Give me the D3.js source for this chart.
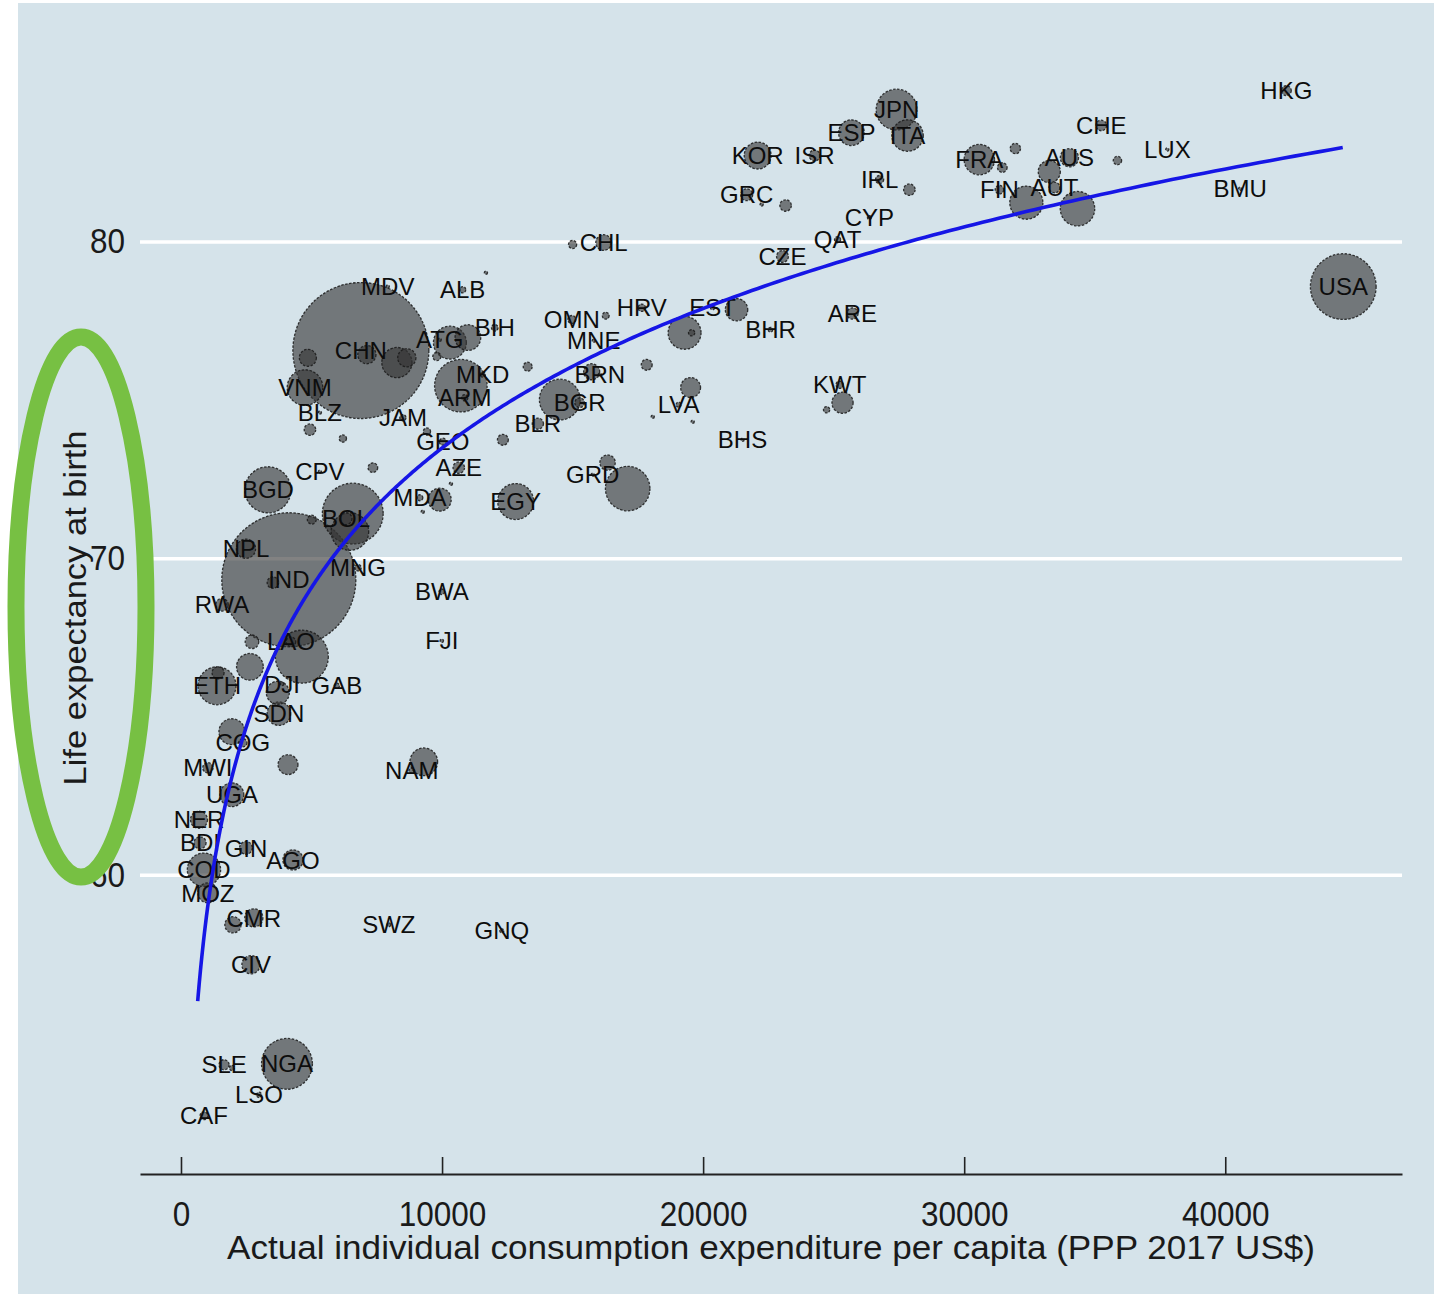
<!DOCTYPE html>
<html>
<head>
<meta charset="utf-8">
<script src="https://cdn.jsdelivr.net/npm/d3@7"></script>
<style>
  body { margin: 0; background: #fff; }
  text { font-family: "Liberation Sans", Arial, sans-serif; }
</style>
</head>
<body>
<svg id="chart" width="1434" height="1294"></svg>
<script>
// Labelled countries: ISO code, actual individual consumption per capita
// (PPP 2017 US$), life expectancy at birth (years), population (millions)
const codes = ["HKG","CHE","LUX","BMU","USA","JPN","ITA","ESP","KOR","ISR","IRL","GRC","CYP","QAT","CZE",
  "FRA","FIN","AUT","AUS","CHL","HRV","OMN","MNE","EST","BHR","ARE","KWT","BRN","BGR","BLR","LVA","BHS",
  "GRD","MDV","ALB","BIH","CHN","ATG","VNM","MKD","ARM","BLZ","JAM","GEO","AZE","CPV","BGD","MDA","EGY",
  "BOL","NPL","IND","MNG","RWA","BWA","FJI","LAO","ETH","DJI","GAB","SDN","COG","NAM","MWI","UGA","NER",
  "BDI","GIN","AGO","COD","MOZ","CMR","SWZ","GNQ","CIV","SLE","NGA","LSO","CAF"];
const consumption = [42340,35250,37780,40570,44520,27410,27830,25680,22090,24270,26760,21670,26370,25150,23040,
  30580,31350,33460,34030,16190,17650,14970,15810,20360,22580,25720,25230,16040,15270,13670,19060,21510,
  15770,7920,10790,12020,6890,9910,4750,11560,10870,5320,8500,10030,10640,5320,3330,9150,12820,
  6320,2490,4130,6780,1570,9990,9990,4210,1380,3870,5970,3750,2370,8840,1030,1950,690,
  730,2490,4290,880,1030,2790,7960,12290,2680,1650,4060,2990,880];
const lifeExp = [84.77,83.67,82.91,81.67,78.58,84.17,83.35,83.44,82.72,82.72,81.96,81.48,80.76,80.06,79.53,
  82.59,81.64,81.71,82.65,79.97,77.91,77.54,76.87,77.91,77.22,77.73,75.48,75.80,74.91,74.25,74.85,73.74,
  72.64,78.58,78.48,77.28,76.56,76.90,75.39,75.80,75.07,74.60,74.44,73.68,72.86,72.73,72.16,71.91,71.79,
  71.25,70.30,69.32,69.70,68.53,68.94,67.39,67.36,65.97,66.03,65.97,65.09,64.17,63.29,63.38,62.53,61.74,
  61.01,60.85,60.47,60.16,59.43,58.64,58.42,58.23,57.16,54.00,54.03,53.05,52.39];
const population = [7.4,8.5,0.6,0.06,327,126,75,50,55,9,5,10.7,1.2,2.8,10.6,
  70,5.5,8.9,25,18.7,4.1,4.8,0.6,1.3,1.6,9.6,4.1,0.4,7,9.5,1.9,0.4,
  0.1,0.5,2.9,3.3,1400,0.1,96,2.1,3,0.4,2.9,3.7,10,0.5,161,2.7,98,
  11,28,1360,3.2,12,2.3,0.9,7,109,1,2.1,42,5.2,2.4,8,43,22,
  11,12.4,31,84,30,25,1.1,1.3,25,7.7,196,2.1,4.7];

// Countries plotted without a label
const otherConsumption = [35870,31960,31460,32380,33260,34340,27900,22240,23160,15000,16270,21280,19290,19560,
  13280,17840,15730,14510,19520,18070,19600,25340,24730,12330,16340,17110,10720,8270,7120,8650,4860,
  10300,10990,9800,11680,4940,6200,7350,9420,10340,9910,9260,6580,6470,5010,3520,4630,2720,2640,1420,
  3710,1950,4100,9300,1990,1950];
const otherLifeExp = [82.56,82.94,82.34,81.23,82.21,81.04,81.64,81.17,81.14,79.91,77.66,77.85,77.12,77.12,
  76.05,76.11,75.89,75.01,75.39,74.47,74.31,74.91,74.69,73.74,73.02,72.20,75.45,76.18,76.43,76.33,76.33,
  76.81,76.97,76.37,79.02,74.06,73.78,72.86,74.00,72.35,71.85,71.47,71.41,70.84,71.22,69.23,66.89,67.36,66.57,66.38,
  65.75,64.52,63.48,63.57,58.42,53.90];
const otherPopulation = [5.3,8,7,83,37,90,10,0.5,10,5,3.5,38,82,3,
  6,9,19.5,126,30,0.5,0.5,34,3,9,18,150,209,69,25,25,22,
  82,50,5,0.5,10,4,7,4,0.5,40,0.5,280,107,6,10,212,14,54,11,
  40,51,30,58,20,2];

// Axis ticks
const xTicks = [0, 10000, 20000, 30000, 40000];
const yTicks = [60, 70, 80];

// Log fit: life expectancy = intercept + slope * ln(consumption)
const fitIntercept = 14.94;
const fitSlope = 6.356;
const fitFrom = 640;
const fitTo = 44500;

const xTitle = "Actual individual consumption expenditure per capita (PPP 2017 US$)";
const yTitle = "Life expectancy at birth";

// ---------------------------------------------------------------------------
const svg = d3.select("#chart");
const W = 1434, H = 1294;
const plot = { left: 140, right: 1402, top: 20, bottom: 1174 };

svg.append("rect").attr("x", 0).attr("y", 0).attr("width", W).attr("height", H).attr("fill", "#ffffff");
svg.append("rect").attr("x", 18).attr("y", 3).attr("width", W - 18).attr("height", H - 3).attr("fill", "#d5e3ea");

const x = d3.scaleLinear().domain([-1570, 46770]).range([plot.left, plot.right]);
const y = d3.scaleLinear().domain([50.55, 87.0]).range([plot.bottom, plot.top]);
const r = d3.scaleSqrt().domain([0, 1400]).range([0, 68]);

// Horizontal grid with tick labels
const yAxis = svg.append("g")
  .attr("transform", `translate(${plot.left},0)`)
  .call(d3.axisLeft(y).tickValues(yTicks).tickSize(-(plot.right - plot.left)).tickPadding(15).tickFormat(d3.format("d")));
yAxis.select(".domain").remove();
yAxis.selectAll(".tick line").attr("stroke", "#ffffff").attr("stroke-width", 3.5);
yAxis.selectAll(".tick text")
  .attr("font-size", 35).attr("fill", "#1a1a1a")
  .attr("font-family", "Liberation Sans, Arial, sans-serif")
  .each(function () { const w = this.getComputedTextLength(); d3.select(this).attr("textLength", w * 0.9).attr("lengthAdjust", "spacingAndGlyphs"); });

// Bottom axis
const xAxis = svg.append("g")
  .attr("transform", `translate(0,${plot.bottom})`)
  .call(d3.axisBottom(x).tickValues(xTicks).tickSizeInner(-17).tickSizeOuter(0).tickPadding(27).tickFormat(d3.format("d")));
xAxis.select(".domain").attr("stroke", "#222").attr("stroke-width", 2);
xAxis.selectAll(".tick line").attr("stroke", "#222").attr("stroke-width", 1.6);
xAxis.selectAll(".tick text")
  .attr("font-size", 35).attr("fill", "#1a1a1a")
  .attr("font-family", "Liberation Sans, Arial, sans-serif")
  .each(function () { const w = this.getComputedTextLength(); d3.select(this).attr("textLength", w * 0.9).attr("lengthAdjust", "spacingAndGlyphs"); });

// Axis titles
svg.append("text")
  .attr("x", 771).attr("y", 1259)
  .attr("text-anchor", "middle").attr("font-size", 34).attr("fill", "#1a1a1a")
  .attr("textLength", 1088).attr("lengthAdjust", "spacingAndGlyphs")
  .text(xTitle);
svg.append("text")
  .attr("transform", "translate(86,608) rotate(-90)")
  .attr("text-anchor", "middle").attr("font-size", 32).attr("fill", "#1a1a1a")
  .attr("textLength", 355).attr("lengthAdjust", "spacingAndGlyphs")
  .text(yTitle);

// Bubbles: all countries, larger ones underneath
const labelled = codes.map((c, i) => ({ code: c, cons: consumption[i], le: lifeExp[i], pop: population[i] }));
const others = otherConsumption.map((c, i) => ({ code: "", cons: c, le: otherLifeExp[i], pop: otherPopulation[i] }));
const all = labelled.concat(others).sort((a, b) => b.pop - a.pop);

svg.append("g").selectAll("circle")
  .data(all).join("circle")
  .attr("cx", d => x(d.cons))
  .attr("cy", d => y(d.le))
  .attr("r", d => Math.max(1.6, r(d.pop)))
  .attr("fill", "#353535").attr("fill-opacity", 0.62)
  .attr("stroke", "#1a1a1a").attr("stroke-opacity", 0.85)
  .attr("stroke-width", 1.3).attr("stroke-dasharray", "2.5 1.5");

// Country codes, centred on their markers
svg.append("g").selectAll("text")
  .data(labelled).join("text")
  .attr("x", d => x(d.cons))
  .attr("y", d => y(d.le))
  .attr("dy", "0.36em")
  .attr("text-anchor", "middle")
  .attr("font-size", 24).attr("fill", "#0d0d0d")
  .text(d => d.code);

// Fitted curve
const fitX = d3.range(0, 401).map(i => fitFrom * Math.pow(fitTo / fitFrom, i / 400));
const fitLine = d3.line().x(d => x(d)).y(d => y(fitIntercept + fitSlope * Math.log(d)));
svg.append("path")
  .datum(fitX)
  .attr("d", fitLine)
  .attr("fill", "none").attr("stroke", "#1616e6").attr("stroke-width", 3.6);

// Highlight around the vertical axis title
svg.append("ellipse")
  .attr("cx", 81).attr("cy", 607).attr("rx", 65).attr("ry", 270)
  .attr("fill", "none").attr("stroke", "#77c043").attr("stroke-width", 17);
</script>
</body>
</html>
